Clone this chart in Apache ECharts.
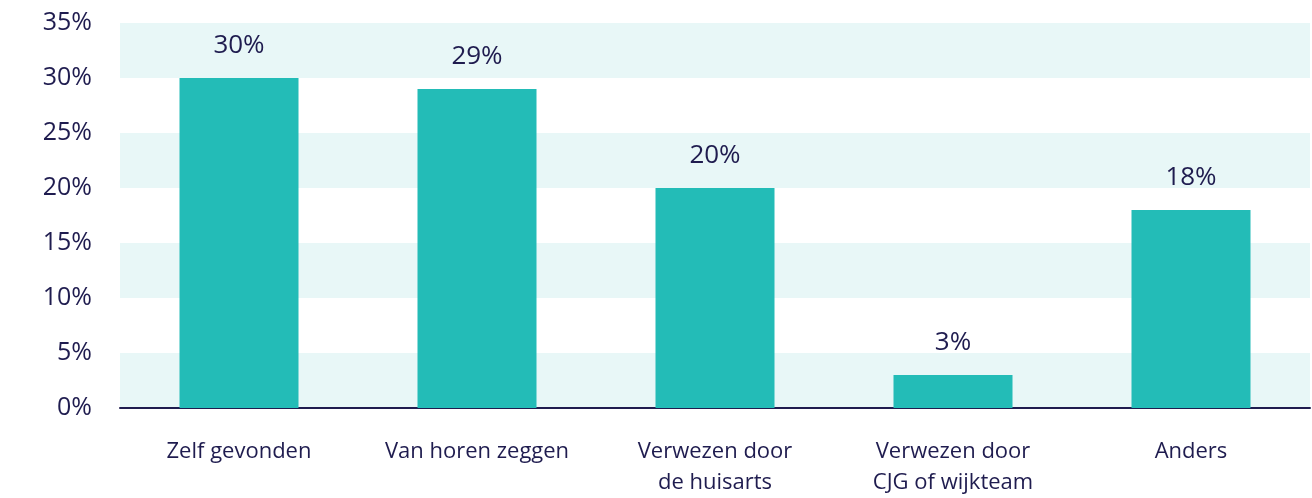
<!DOCTYPE html>
<html>
<head>
<meta charset="utf-8">
<script src="https://cdn.jsdelivr.net/npm/echarts@6/dist/echarts.min.js"></script>
<style>
  html, body { margin: 0; padding: 0; background: #fff; }
  #chart { width: 1312px; height: 498px; }
</style>
</head>
<body>
<div id="chart"></div>
<script>
const categories = ['Zelf gevonden', 'Van horen zeggen', 'Verwezen door\nde huisarts', 'Verwezen door\nCJG of wijkteam', 'Anders'];
const values = [30, 29, 20, 3, 18];

const navy = '#1f1c4f';
const chart = echarts.init(document.getElementById('chart'));

chart.setOption({
    animation: false,
    grid: {left: 120, right: 2, top: 23, bottom: 90},
    xAxis: {
        type: 'category',
        data: categories,
        axisLine: {lineStyle: {color: navy, width: 2}},
        axisTick: {show: false},
        axisLabel: {
            interval: 0,
            color: navy,
            fontFamily: 'Open Sans',
            fontSize: 22,
            margin: 28,
            lineHeight: 31
        }
    },
    yAxis: {
        type: 'value',
        min: 0,
        max: 35,
        interval: 5,
        axisLine: {show: false},
        axisTick: {show: false},
        splitLine: {show: false},
        splitArea: {show: true, areaStyle: {color: ['#e8f7f7', '#ffffff']}},
        axisLabel: {
            color: navy,
            fontFamily: 'Open Sans',
            fontSize: 25,
            margin: 28,
            formatter: '{value}%'
        }
    },
    series: [
        {
            type: 'bar',
            data: values,
            barWidth: '50%',
            itemStyle: {color: '#23bcb7'},
            label: {
                show: true,
                position: 'top',
                distance: 19,
                color: navy,
                fontFamily: 'Open Sans',
                fontSize: 26,
                formatter: '{c}%'
            }
        }
    ]
});
</script>
</body>
</html>
